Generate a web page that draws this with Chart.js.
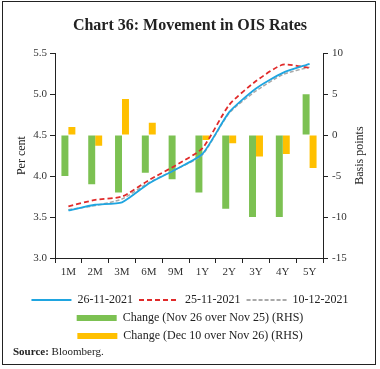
<!DOCTYPE html>
<html>
<head>
<meta charset="utf-8">
<script src="https://cdn.jsdelivr.net/npm/chart.js@4.4.0/dist/chart.umd.min.js"></script>
<style>
  html, body { margin: 0; padding: 0; background: #fff; }
  #wrap { position: relative; width: 380px; height: 369px; }
  #frame { position: absolute; left: 2px; top: 1px; width: 374px; height: 364px; box-sizing: border-box;
           border: 1.5px solid #222; pointer-events: none; }
  canvas { position: absolute; left: 0; top: 0; }
  #source { position: absolute; left: 13px; top: 345px; font: 11px "Liberation Serif", serif; color: #222; }
</style>
</head>
<body>
<div id="wrap">
  <canvas id="chart_ois" width="380" height="369"></canvas>
  <div id="frame"></div>
  <div id="source"><b>Source:</b> Bloomberg.</div>
</div>
<script>
'use strict';

const tenors = ['1M', '2M', '3M', '6M', '9M', '1Y', '2Y', '3Y', '4Y', '5Y'];
const ois26Nov = [3.58, 3.65, 3.68, 3.91, 4.08, 4.27, 4.78, 5.07, 5.26, 5.37];
const ois25Nov = [3.63, 3.71, 3.75, 3.95, 4.13, 4.34, 4.87, 5.16, 5.36, 5.32];
const ois10Dec = [3.59, 3.64, 3.72, 3.92, 4.08, 4.26, 4.77, 5.04, 5.24, 5.33];
const chgNov26 = [-5, -6, -7, -4.6, -5.4, -7, -9, -10, -10, 5];
const chgDec10 = [1, -1.3, 4.4, 1.5, 0, -0.6, -1, -2.6, -2.3, -4];
const leftTicks = [3.0, 3.5, 4.0, 4.5, 5.0, 5.5];
const rightTicks = [-15, -10, -5, 0, 5, 10];

const SERIF = '"Liberation Serif", "DejaVu Serif", serif';
const INK = '#222';

function axisGrid() {
    return {display: true, drawOnChartArea: false, drawTicks: true, tickLength: 5, color: INK, lineWidth: 1};
}

// right axis title reads bottom-to-top in the original, chart.js turns it the other way
const rightTitle = {
    id: 'rightTitle',
    afterDraw(chart) {
        let ctx = chart.ctx,
            area = chart.chartArea;
        ctx.save();
        ctx.translate(360, (area.top + area.bottom) / 2);
        ctx.rotate(-Math.PI / 2);
        ctx.font = '12px ' + SERIF;
        ctx.fillStyle = INK;
        ctx.textAlign = 'center';
        ctx.textBaseline = 'middle';
        ctx.fillText('Basis points', 0, 0);
        ctx.restore();
    }
};

const datasets = [{
    type: 'line',
    label: '26-11-2021',
    data: ois26Nov,
    borderColor: '#1fa5e0',
    backgroundColor: '#1fa5e0',
    borderWidth: 1.8,
    pointRadius: 0,
    tension: 0.2,
    yAxisID: 'y'
}, {
    type: 'line',
    label: '25-11-2021',
    data: ois25Nov,
    borderColor: '#e02a2a',
    backgroundColor: '#e02a2a',
    borderWidth: 1.8,
    borderDash: [5, 3],
    pointRadius: 0,
    tension: 0.2,
    yAxisID: 'y'
}, {
    type: 'line',
    label: '10-12-2021',
    data: ois10Dec,
    borderColor: '#a9a9a9',
    backgroundColor: '#a9a9a9',
    borderWidth: 1.5,
    borderDash: [4, 2],
    pointRadius: 0,
    tension: 0.2,
    yAxisID: 'y'
}, {
    label: 'Change (Nov 26 over Nov 25) (RHS)',
    data: chgNov26,
    backgroundColor: '#7cc152',
    borderWidth: 0,
    yAxisID: 'y1'
}, {
    label: 'Change (Dec 10 over Nov 26) (RHS)',
    data: chgDec10,
    backgroundColor: '#ffc000',
    borderWidth: 0,
    yAxisID: 'y1'
}];

const config = {
    type: 'bar',
    data: {labels: tenors, datasets: datasets},
    options: {
        responsive: false,
        animation: false,
        events: [],
        datasets: {bar: {categoryPercentage: 0.52, barPercentage: 1.0}},
        layout: {padding: {left: 0, right: 0, top: 0, bottom: 17}},
        scales: {
            x: {
                grid: Object.assign(axisGrid(), {offset: true}),
                border: {display: true, color: INK, width: 1},
                ticks: {font: {family: SERIF, size: 11}, color: '#333', padding: 3, maxRotation: 0},
                afterFit: s => { s.height = 30; }
            },
            y: {
                position: 'left',
                min: 3, max: 5.5,
                grid: axisGrid(),
                border: {display: true, color: INK, width: 1},
                afterBuildTicks: s => { s.ticks = leftTicks.map(v => ({value: v})); },
                ticks: {font: {family: SERIF, size: 11}, color: '#333', padding: 3,
                        callback: v => v.toFixed(1)},
                title: {display: true, text: 'Per cent', font: {family: SERIF, size: 12}, color: INK,
                        padding: {top: 15, bottom: 0}},
                afterFit: s => { s.width = 55; }
            },
            y1: {
                position: 'right',
                min: -15, max: 10,
                grid: axisGrid(),
                border: {display: true, color: INK, width: 1},
                afterBuildTicks: s => { s.ticks = rightTicks.map(v => ({value: v})); },
                ticks: {font: {family: SERIF, size: 11}, color: '#333', padding: 4},
                afterFit: s => { s.width = 57; }
            }
        },
        plugins: {
            title: {
                display: true,
                text: 'Chart 36: Movement in OIS Rates',
                font: {family: SERIF, size: 16, weight: 'bold'},
                color: INK,
                padding: {top: 16, bottom: 18}
            },
            legend: {
                position: 'bottom',
                labels: {
                    usePointStyle: true,
                    pointStyleWidth: 40,
                    boxHeight: 6,
                    padding: 6,
                    color: INK,
                    font: {family: SERIF, size: 12},
                    generateLabels: chart => chart.data.datasets.map((ds, i) => ({
                        text: ds.label,
                        fillStyle: ds.backgroundColor,
                        strokeStyle: ds.type === 'line' ? ds.borderColor : ds.backgroundColor,
                        lineWidth: ds.type === 'line' ? 2 : 0,
                        lineDash: ds.borderDash || [],
                        pointStyle: ds.type === 'line' ? 'line' : 'rect',
                        fontColor: INK,
                        hidden: false,
                        datasetIndex: i
                    }))
                }
            },
            tooltip: {enabled: false}
        }
    },
    plugins: [rightTitle]
};

new Chart(document.getElementById('chart_ois').getContext('2d'), config);
</script>
</body>
</html>
